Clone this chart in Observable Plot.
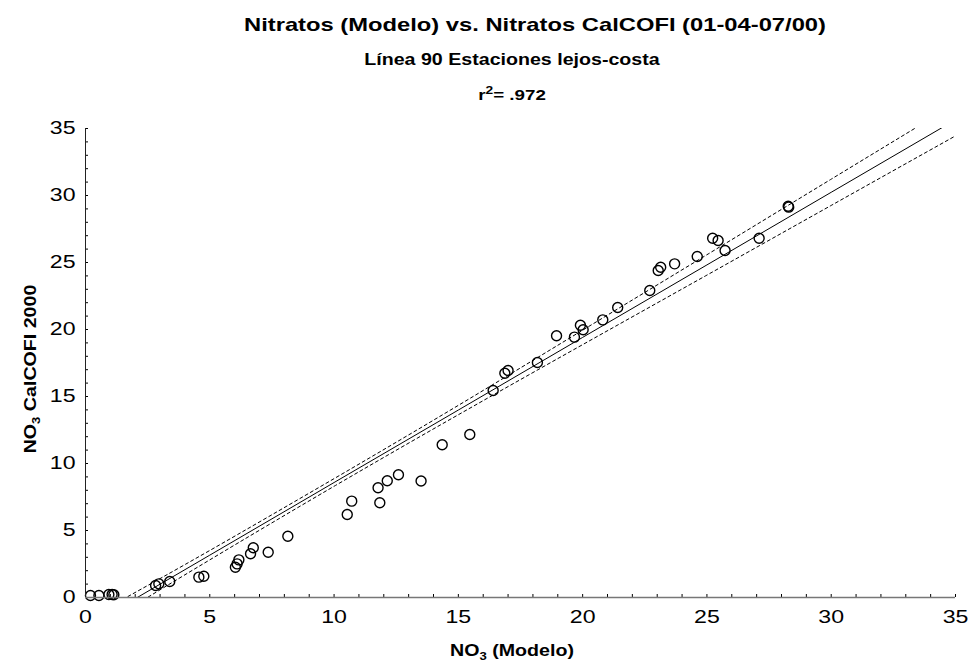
<!DOCTYPE html>
<html>
<head>
<meta charset="utf-8">
<script src="https://cdn.jsdelivr.net/npm/d3@7"></script>
<script src="https://cdn.jsdelivr.net/npm/@observablehq/plot@0.6"></script>
<style>
  html, body { margin: 0; padding: 0; background: #fff; }
  #wrap { position: relative; width: 974px; height: 669px; font-family: "Liberation Sans", Arial, sans-serif; color: #000; }
  .t { position: absolute; left: 0; width: 1024px; text-align: center; font-weight: bold; white-space: nowrap; transform: scaleX(1.25); }
  #title { top: 14px; left: 23px; font-size: 19px; }
  #subtitle { top: 51px; font-size: 15.7px; }
  #r2 { top: 86px; font-size: 15px; }
  #r2 sup { font-size: 11px; vertical-align: 6px; line-height: 0; }
  #xlab { top: 642px; font-size: 15.7px; }
  sub { font-size: 10.5px; vertical-align: -4px; line-height: 0; }
  #ylab { position: absolute; font-weight: bold; font-size: 15.7px; white-space: nowrap;
          left: 31px; top: 369px; transform: translate(-50%, -50%) rotate(-90deg) scaleX(1.25); }
</style>
</head>
<body>
<div id="wrap">
  <div id="chart"></div>
  <div class="t" id="title">Nitratos (Modelo) vs. Nitratos CalCOFI (01-04-07/00)</div>
  <div class="t" id="subtitle">Línea 90 Estaciones lejos-costa</div>
  <div class="t" id="r2">r<sup>2</sup>= .972</div>
  <div class="t" id="xlab">NO<sub>3</sub> (Modelo)</div>
  <div id="ylab">NO<sub>3</sub> CalCOFI 2000</div>
</div>
<script>
// Observed points: NO3 model (x) vs NO3 CalCOFI 2000 (y)
const modelo = [0.20, 0.54, 0.94, 1.07, 1.14,
  2.82, 2.95, 3.39, 4.56, 4.76, 6.03, 6.10, 6.17, 6.64, 6.75, 7.35, 8.14,
  10.53, 10.71, 11.77, 11.84, 12.14, 12.59, 13.50, 14.35, 15.46, 16.40,
  16.87, 17.00, 18.18, 18.95, 19.67, 19.91, 20.02, 20.81, 21.41,
  22.70, 23.04, 23.14, 23.70, 24.61, 25.23, 25.45, 25.73, 27.10, 28.27, 28.29];
const calcofi = [0.15, 0.15, 0.22, 0.22, 0.20,
  0.90, 1.02, 1.19, 1.52, 1.59, 2.26, 2.51, 2.81, 3.26, 3.71, 3.38, 4.57,
  6.19, 7.19, 8.19, 7.07, 8.71, 9.16, 8.69, 11.40, 12.16, 15.45,
  16.74, 16.94, 17.54, 19.53, 19.43, 20.32, 19.98, 20.72, 21.64,
  22.91, 24.40, 24.65, 24.90, 25.45, 26.81, 26.64, 25.90, 26.81, 29.20, 29.13];

// Regression line and 95% confidence band
const bandX  = [1.5, 5, 10, 15, 20, 25, 30, 35];
const fitY   = [-0.63, 3.16, 8.58, 13.99, 19.41, 24.82, 30.24, 35.65];
const upperY = [-0.14, 3.51, 8.87, 14.34, 19.95, 25.58, 31.22, 36.85];
const lowerY = [-1.12, 2.81, 8.30, 13.64, 18.87, 24.06, 29.26, 34.45];

const xTicks = [0, 5, 10, 15, 20, 25, 30, 35];
const yTicks = [0, 5, 10, 15, 20, 25, 30, 35];
const minorTicks = d3.range(0, 36, 1);

const pts = modelo.map((x, i) => ({x, y: calcofi[i]}));
const band = bandX.map((x, i) => ({x, fit: fitY[i], up: upperY[i], lo: lowerY[i]}));

const W = 974, H = 669, ML = 85, MR = 19, MT = 128, MB = 72;
const TICK = 3;

const chart = Plot.plot({
  width: W,
  height: H,
  marginLeft: ML,
  marginRight: MR,
  marginTop: MT,
  marginBottom: MB,
  style: {fontFamily: "'Liberation Sans', Arial, sans-serif", fontSize: "18.5px", color: "#000", background: "#fff"},
  x: {domain: [0, 35]},
  y: {domain: [0, 35]},
  marks: [
    Plot.line(band, {x: "x", y: "fit", stroke: "#000", strokeWidth: 1, clip: true}),
    Plot.line(band, {x: "x", y: "up", stroke: "#000", strokeWidth: 1, strokeDasharray: "3,3", clip: true, curve: "natural"}),
    Plot.line(band, {x: "x", y: "lo", stroke: "#000", strokeWidth: 1, strokeDasharray: "3,3", clip: true, curve: "natural"}),
    Plot.dot(pts, {x: "x", y: "y", r: 5, stroke: "#000", strokeWidth: 1.4, fill: "none"}),
    // inward minor ticks
    Plot.ruleX(minorTicks, {x: d => d, insetTop: H - MT - MB - TICK, stroke: "#000"}),
    Plot.ruleY(minorTicks, {y: d => d, insetRight: W - ML - MR - TICK, stroke: "#000"}),
    Plot.axisX(xTicks, {tickSize: 0, tickPadding: 12, label: null}),
    Plot.axisY(yTicks, {tickSize: 0, tickPadding: 10, label: null}),
    Plot.ruleY([0], {stroke: "#777", strokeWidth: 1.6}),
    Plot.ruleX([0], {stroke: "#222", strokeWidth: 1})
  ]
});

// horizontally widen the tick labels like the reference's lettering
chart.querySelectorAll("text").forEach(t => {
  const tr = t.getAttribute("transform");
  if (tr) t.setAttribute("transform", tr + " scale(1.25,1)");
  else {
    const x = +t.getAttribute("x") || 0, y = +t.getAttribute("y") || 0;
    t.removeAttribute("x"); t.removeAttribute("y");
    t.setAttribute("transform", `translate(${x},${y}) scale(1.25,1)`);
  }
});
document.getElementById("chart").appendChild(chart);
</script>
</body>
</html>
